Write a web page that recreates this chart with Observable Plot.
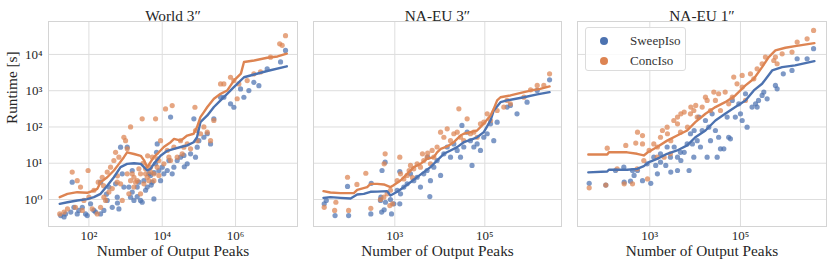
<!DOCTYPE html>
<html><head><meta charset="utf-8">
<script src="https://cdn.jsdelivr.net/npm/d3@7"></script>
<script src="https://cdn.jsdelivr.net/npm/@observablehq/plot@0.6"></script>
<style>
body{margin:0;background:#fff;}
#wrap{position:relative;width:831px;height:267px;font-family:"Liberation Serif","DejaVu Serif",serif;overflow:hidden;}
.panel{position:absolute;top:0;}
#legend{position:absolute;left:585px;top:27px;width:101px;height:44px;border:1px solid #dcdcdc;border-radius:3px;background:rgba(255,255,255,0.85);box-sizing:border-box;font-size:13px;color:#333;}
.li{position:absolute;left:0;height:16px;line-height:16px;}
.sw{position:absolute;left:14px;top:4px;width:8px;height:8px;border-radius:50%;}
.lt{position:absolute;left:44px;top:0;white-space:nowrap;}
svg text{font-family:"Liberation Serif","DejaVu Serif",serif !important;}
</style></head>
<body><div id="wrap"></div>
<script>
// ---------- data ----------
const blue = "#4C72B0", orange = "#DD8452";
const seriesNames = ["SweepIso", "ConcIso"];
const titles = ["World 3″", "NA-EU 3″", "NA-EU 1″"];
const xLabel = "Number of Output Peaks";
const yLabel = "Runtime [s]";
const yTicks = [1, 10, 100, 1000, 10000];
const yTickLabels = ["10⁰", "10¹", "10²", "10³", "10⁴"];
const xTicks1 = [1e2, 1e4, 1e6];
const xTickLabels1 = ["10²", "10⁴", "10⁶"];
const xTicks23 = [1e3, 1e5];
const xTickLabels23 = ["10³", "10⁵"];

// World 3"
const world3Sweep = [[17,0.36],[21,0.33],[23,0.40],[32,0.45],[35,3.0],[39,0.61],[48,0.40],[53,0.5],[66,0.61],[81,0.40],[90,0.36],[111,0.76],[137,0.5],[152,0.45],[208,0.40],[208,3.0],[256,0.5],[316,0.94],[351,2.2],[433,0.61],[534,2.7],[593,1.16],[658,0.55],[730,27.8],[811,5.1],[900,2.2],[1110,27.8],[1230,2.2],[1370,1.16],[1520,6.3],[1690,0.94],[2080,2.2],[2310,3.0],[2560,0.94],[2840,0.84],[3160,3.3],[3900,2.2],[4330,5.1],[4800,4.6],[5340,3.0],[5930,1.04],[6580,9.6],[7300,34],[8110,6.3],[9000,3.3],[1.11e4,5.1],[1.37e4,6.3],[1.52e4,11.9],[1.69e4,187],[1.87e4,5.1],[2.08e4,7.8],[2.56e4,11.9],[3.16e4,14.7],[3.9e4,16.4],[4.8e4,9.6],[5.93e4,18.2],[7.3e4,168],[8.1e4,14.7],[9e4,27.8],[1e5,42],[1.37e5,52],[1.69e5,65],[2.08e5,34],[2.56e5,168],[3.9e5,660],[4.8e5,660],[7.3e5,435],[9e5,350],[1.37e6,1120],[1.69e6,660],[2.31e6,1010],[3.16e6,1700],[4.33e6,1380],[7.3e6,4000],[1.69e7,6200],[2.31e7,12900],[1520,1.6],[2080,1.2],[3510,1.8],[600,0.8],[300,1.4],[5000,2.5],[6000,5.5],[1e4,7.8],[4e4,8],[7000,20]];
const world3Conc = [[16,0.40],[21,0.45],[26,0.55],[35,5.7],[43,0.61],[48,3.3],[59,2.2],[66,0.5],[73,0.94],[95,6.3],[100,1.16],[123,0.55],[137,1.8],[169,0.40],[208,0.61],[231,4.1],[256,1.16],[284,0.94],[316,5.7],[351,1.6],[390,7.8],[433,2.0],[480,11.9],[534,20],[593,3.0],[658,14.7],[730,2.7],[811,0.94],[900,52],[1000,42],[1110,25],[1230,1.43],[1370,100],[1520,5.1],[1690,2.2],[1870,3.0],[2080,3.3],[2560,1.43],[2840,168],[3160,2.7],[3510,7.0],[3900,4.1],[4330,3.3],[4800,5.7],[5340,14.7],[5930,5.1],[6580,168],[7300,7.8],[8110,4.6],[9000,42],[1.11e4,9.6],[1.23e4,315],[1.37e4,22.5],[1.52e4,14.7],[1.69e4,11.9],[1.87e4,390],[2.08e4,27.8],[2.56e4,14.7],[3.16e4,42],[3.5e4,18],[3.9e4,27.8],[4.8e4,34],[5.93e4,25],[7.8e4,350],[8.1e4,80],[9e4,42],[1.11e5,65],[1.37e5,100],[1.69e5,72],[2.08e5,42],[2.56e5,152],[3.9e5,1540],[4.8e5,1540],[7.3e5,2350],[9e5,1900],[1.11e6,600],[1.23e6,1540],[2.08e6,1900],[3.16e6,2900],[4.8e6,3300],[9e6,8400],[1.6e7,19600],[1.87e7,17800],[2.31e7,33000],[1110,5.1],[1370,3.3],[1690,4.1],[2310,7.0],[2560,5.1],[3510,5.1],[4800,7.8],[5930,3.3],[7300,13.2],[8110,11.9],[3000,10],[600,4.5],[250,2.4],[180,3.0],[4000,16]];
const world3SweepLine = [[16,0.76],[26,0.84],[48,0.94],[90,1.02],[137,1.16],[208,1.43],[316,2.4],[480,4.1],[730,7.8],[1100,9.6],[1700,10],[2600,9.6],[3900,6.3],[4800,7],[5900,9.6],[9000,16],[13700,22],[21000,25],[32000,28],[48000,31],[72000,38],[89000,52],[110000,136],[170000,208],[257000,355],[390000,540],[590000,820],[900000,1260],[1.7e6,2350],[3.2e6,2800],[7.3e6,3500],[2.5e7,4700]];
const world3ConcLine = [[16,1.16],[26,1.43],[48,1.59],[90,1.53],[137,1.77],[170,1.97],[208,3.0],[316,4.1],[480,6.3],[660,9.6],[900,14.7],[1100,20],[1700,18],[2600,16],[3200,12],[3900,7.8],[4800,10.7],[5900,14.7],[7300,18],[11000,28],[17000,38],[21000,47],[32000,42],[48000,58],[72000,65],[89000,99],[110000,187],[137000,257],[170000,355],[257000,600],[390000,820],[590000,1010],[900000,1900],[1.4e6,2950],[1.7e6,6200],[3.2e6,6800],[7.3e6,8100],[1.4e7,8800],[2.5e7,10500]];

// NA-EU 3"
const naeu3Sweep = [[27,0.76],[30,0.94],[47,0.36],[94,0.36],[89,2.3],[300,2.8],[293,0.40],[490,1.16],[510,0.45],[610,10.7],[520,6.3],[845,0.40],[1290,5.9],[1290,0.76],[580,0.52],[5370,14.7],[6000,1.2],[480,0.94],[620,0.84],[800,1.0],[950,0.76],[1130,1.8],[1340,1.43],[1585,2.2],[1880,2.7],[2230,5.1],[2640,3.3],[3130,4.1],[3715,2.2],[4400,5.1],[5220,6.3],[6200,3.3],[7360,7.8],[8700,11.9],[1.04e4,4.6],[1.23e4,18.2],[1.46e4,28],[1.73e4,14.7],[2.05e4,34],[2.43e4,22.5],[2.88e4,14.7],[3.1e4,110],[3.41e4,28],[4.05e4,72],[4.8e4,42],[5.2e4,8.7],[5.7e4,28],[6.75e4,34],[8.0e4,22.5],[9.5e4,52],[1.13e5,65],[1.34e5,122],[1.58e5,42],[1.88e5,136],[3.13e5,353],[3.7e5,392],[5.2e5,231],[8.7e5,484],[1.46e6,1020],[2.75e6,2000]];
const naeu3Conc = [[27,0.61],[49,0.84],[46,0.50],[89,4.1],[94,0.50],[144,2.6],[227,5.3],[293,0.57],[580,9.6],[610,18.2],[1290,14.7],[775,0.68],[890,0.76],[2080,6.3],[2470,4.0],[4110,18.2],[5370,19],[480,1.0],[570,1.16],[675,1.43],[800,1.8],[1130,3.3],[1340,5.1],[1585,3.7],[1880,4.6],[2230,8.7],[2640,7.0],[3130,9.6],[3715,7.8],[4400,11.9],[5220,14.7],[6200,9.6],[6750,22.5],[7360,14.7],[8700,28],[1.04e4,72],[1.23e4,52],[1.46e4,89],[1.73e4,42],[2.05e4,65],[2.43e4,72],[2.65e4,317],[2.88e4,52],[3.41e4,42],[4.05e4,168],[4.8e4,65],[5.7e4,72],[6.75e4,52],[8.0e4,122],[9.5e4,136],[1.13e5,231],[1.34e5,151],[1.88e5,285],[2.64e5,353],[3.13e5,538],[3.7e5,436],[7.4e5,665],[1.04e6,1060],[1.46e6,1400],[2.05e6,1400],[2.75e6,2930]];
const naeu3SweepLine = [[26,1.11],[37,1.16],[62,1.11],[104,1.07],[146,1.37],[205,1.43],[288,1.63],[405,1.65],[675,1.70],[800,1.29],[1130,1.63],[1585,2.19],[2230,3.0],[3130,4.13],[4400,5.7],[6200,7.8],[8700,11.9],[1.23e4,18.2],[1.73e4,22.5],[2.43e4,27.8],[3.41e4,38],[4.8e4,44],[6.75e4,52],[9.5e4,72],[1.34e5,152],[1.58e5,285],[2.23e5,484],[3.13e5,540],[7.4e5,660],[1.46e6,790],[2.75e6,910]];
const naeu3ConcLine = [[26,1.70],[37,1.56],[62,1.50],[123,1.50],[146,1.85],[243,2.19],[288,2.7],[405,2.7],[570,2.6],[800,2.19],[920,2.43],[1340,3.34],[1880,5.1],[2640,7.8],[3715,9.6],[5220,13.2],[7360,14.7],[8700,20],[1.05e4,25],[1.46e4,29],[2.05e4,38],[2.88e4,58],[3.41e4,65],[4.8e4,72],[6.75e4,80],[9.5e4,124],[1.34e5,207],[1.58e5,315],[1.88e5,540],[2.23e5,660],[3.7e5,740],[7.4e5,910],[1.04e6,1010],[1.7e6,1120],[2.75e6,1310]];

// NA-EU 1"
const naeu1Sweep = [[46,2.8],[107,2.5],[272,3.0],[375,3.2],[450,4.6],[415,6.3],[535,6.3],[690,3.3],[1050,2.8],[1470,5.1],[1350,8.7],[2250,8.7],[2900,5.7],[4080,6.3],[4840,11.9],[7350,6.3],[5730,20],[8700,34],[4080,14.7],[9500,80],[3450,28],[1.21e4,187],[1.69e4,151],[2.0e4,99],[1.31e4,28],[1.84e4,14.7],[3.06e4,14.7],[3.62e4,25],[4.29e4,25],[2.8e4,80],[3.3e4,52],[5.08e4,187],[5.5e4,52],[6.0e4,47],[7.7e4,187],[9.2e4,436],[1e5,231],[1.09e5,151],[1.4e5,99],[1.8e5,353],[2.15e5,436],[2.33e5,353],[3.0e5,740],[2.5e5,538],[3.27e5,914],[3.87e5,598],[5.9e5,1400],[6.44e5,1130],[8.8e5,2930],[1.37e6,3620],[1.78e6,7600],[2.95e6,7600],[4.1e6,14400],[1.43e4,80],[2.37e4,231],[6.6e4,538],[1.29e5,823],[1225,14.7],[1720,18.2],[2410,28],[2855,14.7],[4750,20],[6665,34],[7890,65],[1.11e4,42],[9340,14.7],[175,6.3],[267,7.8],[873,9.6],[1720,10.7],[2.18e4,42]];
const naeu1Conc = [[46,2.1],[107,2.5],[272,2.7],[295,31],[490,36],[535,72],[690,58],[690,34],[415,2.7],[890,3.7],[965,22.5],[1470,28],[1900,80],[2450,65],[4080,187],[4840,231],[5730,257],[8030,353],[1.03e4,392],[4080,122],[6780,99],[2900,42],[2070,14.7],[1.69e4,665],[2.58e4,914],[2.8e4,538],[3.3e4,823],[4.6e4,914],[5.5e4,436],[7.1e4,2370],[8.4e4,1550],[1.09e5,2640],[1.09e5,1260],[1.66e5,2930],[1.97e5,2130],[2.33e5,4000],[3.0e5,5500],[3.55e5,8440],[5.43e5,6800],[5.9e5,8440],[6.44e5,5530],[8.3e5,10400],[1.37e6,11600],[1.78e6,21900],[2.95e6,27000],[4.1e6,45900],[1.43e4,353],[3.62e4,285],[6.6e4,665],[1.29e5,538],[115,26],[1225,34],[1720,52],[2410,99],[3385,151],[4750,72],[7890,231],[2855,18.2],[1450,14.7],[9340,285],[1.11e4,187],[1.84e4,538],[2.18e4,285],[190,7.0],[525,7.0],[737,11.9]];
const naeu1SweepLine = [[44,5.6],[115,5.9],[125,6.6],[316,6.6],[525,7.0],[737,8.3],[960,10.7],[1450,13.2],[2410,18.2],[4010,22.5],[6665,31],[1.01e4,52],[1.69e4,80],[2.8e4,151],[4.6e4,231],[7.7e4,353],[1.29e5,538],[1.97e5,1020],[3.0e5,1550],[5.0e5,3620],[8.3e5,4470],[1.6e6,4980],[4.27e6,6550]];
const naeu1ConcLine = [[44,17.4],[115,17.4],[125,20],[316,20],[525,18.2],[737,16.4],[905,20],[1450,28],[2410,42],[4010,58],[6665,80],[1.01e4,136],[1.69e4,231],[2.8e4,353],[4.6e4,484],[7.7e4,740],[1.29e5,1400],[1.97e5,2130],[3.0e5,4470],[4.2e5,8440],[5.9e5,12900],[9.8e5,15300],[1.6e6,17000],[4.27e6,20500]];

// ---------- drawing ----------
const yDomain = [0.18, 8.1e4];
const gridColor = "#dedede", frameColor = "#d4d4d4";
const FONT = "'Liberation Serif', 'DejaVu Serif', serif";

function panel(o) {
  const marks = [
    Plot.ruleX(o.xTicks, {stroke: gridColor, strokeWidth: 1}),
    Plot.ruleY(yTicks, {stroke: gridColor, strokeWidth: 1}),
    Plot.frame({stroke: frameColor, strokeWidth: 1}),
    Plot.dot(o.sweep, {x: d => d[0], y: d => d[1], r: 2.6, fill: blue, fillOpacity: 0.72, stroke: "none"}),
    Plot.dot(o.conc, {x: d => d[0], y: d => d[1], r: 2.6, fill: orange, fillOpacity: 0.72, stroke: "none"}),
    Plot.line(o.sweepLine, {x: d => d[0], y: d => d[1], stroke: blue, strokeWidth: 2.4}),
    Plot.line(o.concLine, {x: d => d[0], y: d => d[1], stroke: orange, strokeWidth: 2.4}),
    Plot.text([o.title], {frameAnchor: "top", text: d => d, dy: -11, fontSize: 15.3, fill: "#262626"}),
    Plot.text([xLabel], {frameAnchor: "bottom", text: d => d, dy: 29, fontSize: 15.3, fill: "#262626"})
  ];
  if (o.showY) marks.push(Plot.text([yLabel], {frameAnchor: "left", text: d => d, dx: -36, rotate: -90, fontSize: 15.3, fill: "#262626"}));
  const chart = Plot.plot({
    width: o.width, height: 267,
    marginLeft: o.ml, marginRight: o.mr, marginTop: 21, marginBottom: 41,
    style: {fontFamily: FONT, fontSize: "13px", background: "transparent", color: "#262626", overflow: "visible"},
    x: {type: "log", domain: o.xDomain, ticks: o.xTicks, tickFormat: d => o.xLabels[o.xTicks.indexOf(d)], tickSize: 0, tickPadding: 4, label: null},
    y: o.showY
      ? {type: "log", domain: yDomain, ticks: yTicks, tickFormat: d => yTickLabels[yTicks.indexOf(d)], tickSize: 0, tickPadding: 6, label: null}
      : {type: "log", domain: yDomain, axis: null},
    marks
  });
  const div = document.createElement("div");
  div.className = "panel";
  div.style.left = o.left + "px";
  div.appendChild(chart);
  document.getElementById("wrap").appendChild(div);
}

panel({left: 0, width: 300, ml: 48, mr: 3, xDomain: [7.9, 4.9e7], xTicks: xTicks1, xLabels: xTickLabels1,
  sweep: world3Sweep, conc: world3Conc, sweepLine: world3SweepLine, concLine: world3ConcLine, title: titles[0], showY: true});
panel({left: 300, width: 265, ml: 13, mr: 4, xDomain: [15.6, 5.06e6], xTicks: xTicks23, xLabels: xTickLabels23,
  sweep: naeu3Sweep, conc: naeu3Conc, sweepLine: naeu3SweepLine, concLine: naeu3ConcLine, title: titles[1], showY: false});
panel({left: 565, width: 266, ml: 12, mr: 5, xDomain: [25.4, 7.9e6], xTicks: xTicks23, xLabels: xTickLabels23,
  sweep: naeu1Sweep, conc: naeu1Conc, sweepLine: naeu1SweepLine, concLine: naeu1ConcLine, title: titles[2], showY: false});

// legend
const lg = document.createElement("div");
lg.id = "legend";
[[blue, seriesNames[0], 5], [orange, seriesNames[1], 25]].forEach(([c, t, top]) => {
  const it = document.createElement("div");
  it.className = "li"; it.style.top = top + "px";
  const sw = document.createElement("div"); sw.className = "sw"; sw.style.background = c;
  const tx = document.createElement("div"); tx.className = "lt"; tx.textContent = t;
  it.appendChild(sw); it.appendChild(tx); lg.appendChild(it);
});
document.getElementById("wrap").appendChild(lg);
</script></body></html>
